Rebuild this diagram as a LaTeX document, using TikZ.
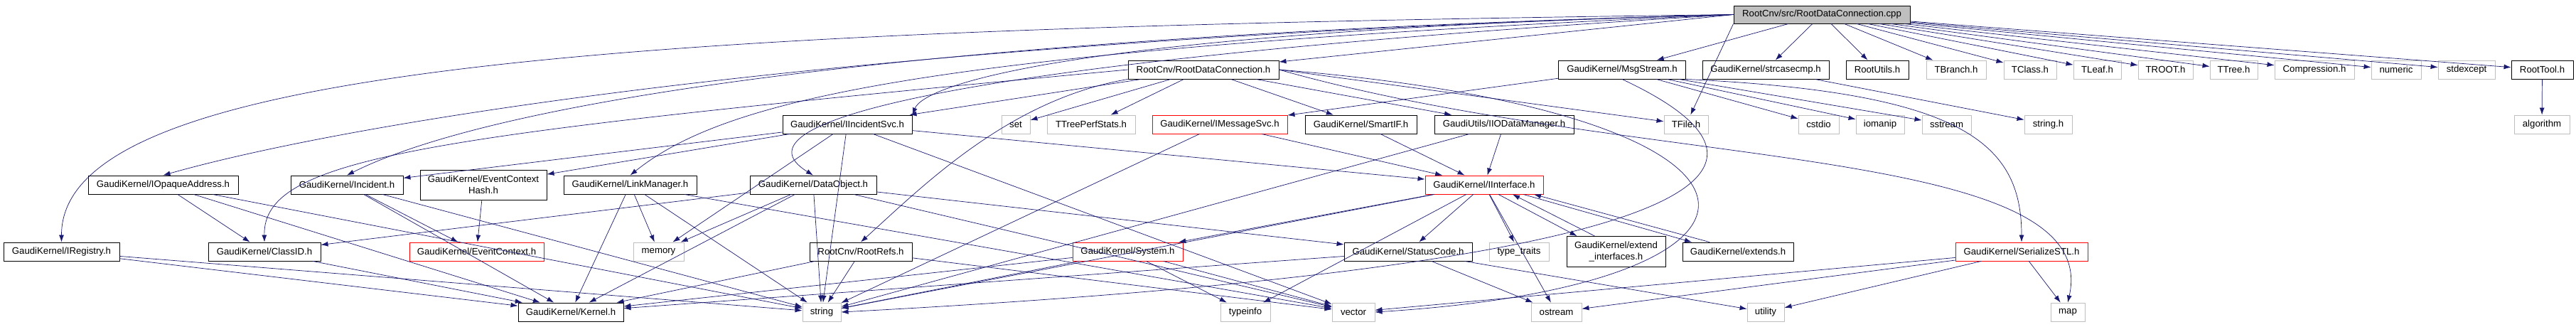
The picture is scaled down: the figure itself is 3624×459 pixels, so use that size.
\documentclass[tikz,border=0pt]{standalone}
\usepackage{fontspec}
\setmainfont{Liberation Sans}
\usepackage{tikz}
\usetikzlibrary{arrows.meta}
\definecolor{edgeblue}{HTML}{191970}
\definecolor{sysgray}{HTML}{BFBFBF}

\begin{document}
\begin{tikzpicture}[x=1pt, y=1pt,
	hdrbox/.style={font=\fontsize{13.2}{16}\selectfont, draw, line width=0.9, minimum height=26, inner sep=2, align=center},
	sysbox/.style={hdrbox, draw=sysgray},
	redbox/.style={hdrbox, draw=red},
	srcbox/.style={hdrbox, fill=sysgray, minimum height=25},
	incl/.style={draw=edgeblue, line width=0.7, -{Latex[length=10pt,width=7pt]}}
]
\useasboundingbox (0,0) rectangle (3624,-459);

% top row
\node[srcbox, minimum width=248] (root) at (2563,-20.5) {RootCnv/src/RootDataConnection.cpp};

\node[hdrbox, minimum width=212] (rdch) at (1693,-98) {RootCnv/RootDataConnection.h};
\node[hdrbox, minimum width=179] (msgstream) at (2282,-98) {GaudiKernel/MsgStream.h};
\node[hdrbox, minimum width=178] (strcasecmp) at (2484,-98) {GaudiKernel/strcasecmp.h};
\node[hdrbox, minimum width=88] (rootutils) at (2641,-98) {RootUtils.h};
\node[sysbox, minimum width=84] (tbranch) at (2752,-98) {TBranch.h};
\node[sysbox, minimum width=74] (tclass) at (2856,-98) {TClass.h};
\node[sysbox, minimum width=67] (tleaf) at (2950.5,-98) {TLeaf.h};
\node[sysbox, minimum width=77] (troot) at (3046.5,-98) {TROOT.h};
\node[sysbox, minimum width=67] (ttree) at (3142.5,-98) {TTree.h};
\node[sysbox, minimum width=112] (compression) at (3256,-98) {Compression.h};
\node[sysbox, minimum width=70] (numeric) at (3371,-98) {numeric};
\node[sysbox, minimum width=80] (stdexcept) at (3470,-98) {stdexcept};
\node[hdrbox, minimum width=87] (roottool) at (3576.5,-98) {RootTool.h};

\node[hdrbox, minimum width=182] (iincidentsvc) at (1192,-175) {GaudiKernel/IIncidentSvc.h};
\node[sysbox, minimum width=40] (stdset) at (1429,-175) {set};
\node[sysbox, minimum width=124] (ttreeperf) at (1535,-175) {TTreePerfStats.h};
\node[redbox, minimum width=190] (imessagesvc) at (1716,-175) {GaudiKernel/IMessageSvc.h};
\node[hdrbox, minimum width=157] (smartif) at (1914.5,-175) {GaudiKernel/SmartIF.h};
\node[hdrbox, minimum width=196] (iiodatamgr) at (2116,-175) {GaudiUtils/IIODataManager.h};
\node[sysbox, minimum width=62] (tfile) at (2372,-175) {TFile.h};
\node[sysbox, minimum width=57] (cstdio) at (2558.5,-175) {cstdio};
\node[sysbox, minimum width=68] (iomanip) at (2645,-175) {iomanip};
\node[sysbox, minimum width=69] (sstream) at (2738.5,-175) {sstream};
\node[sysbox, minimum width=67] (stringh) at (2881.5,-175) {string.h};
\node[sysbox, minimum width=78] (algorithm) at (3576,-175) {algorithm};

\node[hdrbox, minimum width=211] (iopaque) at (229.5,-260) {GaudiKernel/IOpaqueAddress.h};
\node[hdrbox, minimum width=158] (incident) at (488,-260) {GaudiKernel/Incident.h};
\node[hdrbox, minimum width=178, minimum height=42] (evctxhash) at (680,-260) {GaudiKernel/EventContext\\Hash.h};
\node[hdrbox, minimum width=187] (linkmgr) at (886.5,-260) {GaudiKernel/LinkManager.h};
\node[hdrbox, minimum width=178] (dataobject) at (1144,-260) {GaudiKernel/DataObject.h};
\node[redbox, minimum width=166] (iinterface) at (2088,-260) {GaudiKernel/IInterface.h};

\node[hdrbox, minimum width=163] (iregistry) at (86.5,-354) {GaudiKernel/IRegistry.h};
\node[hdrbox, minimum width=158] (classid) at (372,-354) {GaudiKernel/ClassID.h};
\node[redbox, minimum width=189] (evctx) at (670.5,-354) {GaudiKernel/EventContext.h};
\node[sysbox, minimum width=71] (memory) at (926.5,-354) {memory};
\node[hdrbox, minimum width=144] (rootrefs) at (1211,-354) {RootCnv/RootRefs.h};
\node[redbox, minimum width=155] (system) at (1586.5,-354) {GaudiKernel/System.h};
\node[hdrbox, minimum width=180] (statuscode) at (1981,-354) {GaudiKernel/StatusCode.h};
\node[sysbox, minimum width=84] (typetraits) at (2137,-354) {type\_traits};
\node[hdrbox, minimum width=139, minimum height=43] (extendif) at (2273.5,-354) {GaudiKernel/extend\\\_interfaces.h};
\node[hdrbox, minimum width=156] (extends) at (2445,-354) {GaudiKernel/extends.h};
\node[redbox, minimum width=186] (serialstl) at (2844,-354) {GaudiKernel/SerializeSTL.h};

% bottom row
\node[hdrbox, minimum width=148] (kernel) at (803,-439) {GaudiKernel/Kernel.h};
\node[sysbox, minimum width=54] (stdstring) at (1156,-439) {string};
\node[sysbox, minimum width=70] (typeinfo) at (1752,-439) {typeinfo};
\node[sysbox, minimum width=60] (vector) at (1904,-439) {vector};
\node[sysbox, minimum width=71] (ostream) at (2189.5,-439) {ostream};
\node[sysbox, minimum width=52] (utility) at (2484,-439) {utility};
\node[sysbox, minimum width=48] (map) at (2909,-439) {map};

% includes of the source file
\draw[incl] (root.west) -- (rdch);
\draw[incl] (root) -- (msgstream);
\draw[incl] (root) -- (strcasecmp);
\draw[incl] (root) -- (rootutils);
\draw[incl] (root) -- (tbranch);
\draw[incl] (root) -- (tclass);
\draw[incl] (root) -- (tleaf);
\draw[incl] (root) -- (troot);
\draw[incl] (root) -- (ttree);
\draw[incl] (root) -- (compression);
\draw[incl] (root) -- (numeric);
\draw[incl] (root) -- (stdexcept);
\draw[incl] (root) -- (roottool);
\draw[incl] (root.south west) -- (tfile);
\draw[incl] (root.west) .. controls (1500,-45) and (1300,-120) .. (iincidentsvc.north east);
\draw[incl] (root.west) .. controls (1300,-50) and (700,-140) .. (incident.north);
\draw[incl] (root.west) .. controls (1200,-55) and (500,-170) .. (iopaque.north);
\draw[incl] (root.west) .. controls (900,-40) and (86,-90) .. (iregistry.north);
\draw[incl] (root.west) .. controls (1300,-70) and (1020,-140) .. (linkmgr.north);
\draw[incl] (root.west) .. controls (1350,-85) and (1020,-170) .. (dataobject.north);

% RootDataConnection.h
\draw[incl] (rdch) -- (iincidentsvc);
\draw[incl] (rdch) -- (stdset);
\draw[incl] (rdch) -- (ttreeperf);
\draw[incl] (rdch) -- (smartif);
\draw[incl] (rdch) -- (iiodatamgr);
\draw[incl] (rdch.east) -- (tfile);
\draw[incl] (rdch.west) .. controls (600,-190) and (370,-220) .. (classid.north);
\draw[incl] (rdch.south west) .. controls (1420,-140) and (1300,-260) .. (rootrefs.north);
\draw[incl] (rdch.east) .. controls (2300,-240) and (2960,-200) .. (map.north);
\draw[incl] (rdch.east) .. controls (2560,-160) and (2560,-400) .. (vector.east);

% MsgStream.h and friends
\draw[incl] (msgstream) -- (imessagesvc);
\draw[incl] (msgstream) -- (cstdio);
\draw[incl] (msgstream) -- (iomanip);
\draw[incl] (msgstream) -- (sstream);
\draw[incl] (msgstream.south east) .. controls (2760,-130) and (2844,-200) .. (serialstl.north);
\draw[incl] (msgstream.south) .. controls (2600,-260) and (2300,-380) .. (stdstring.east);
\draw[incl] (strcasecmp) -- (stringh);
\draw[incl] (roottool) -- (algorithm);

% second row
\draw[incl] (iincidentsvc) -- (incident);
\draw[incl] (iincidentsvc) -- (evctxhash);
\draw[incl] (iincidentsvc) -- (iinterface);
\draw[incl] (iincidentsvc) -- (memory);
\draw[incl] (iincidentsvc) -- (stdstring);
\draw[incl] (iincidentsvc) -- (vector);
\draw[incl] (imessagesvc) -- (iinterface);
\draw[incl] (imessagesvc) -- (stdstring);
\draw[incl] (smartif) -- (iinterface);
\draw[incl] (iiodatamgr) -- (iinterface);
\draw[incl] (iiodatamgr) -- (stdstring);

% third row
\draw[incl] (iopaque) -- (classid);
\draw[incl] (iopaque) -- (kernel);
\draw[incl] (iopaque) -- (stdstring);
\draw[incl] (incident) -- (evctx);
\draw[incl] (incident) -- (kernel);
\draw[incl] (incident) -- (stdstring);
\draw[incl] (evctxhash) -- (evctx);
\draw[incl] (linkmgr) -- (memory);
\draw[incl] (linkmgr) -- (kernel);
\draw[incl] (linkmgr) -- (stdstring);
\draw[incl] (linkmgr) -- (vector);
\draw[incl] (dataobject) -- (classid);
\draw[incl] (dataobject) -- (memory);
\draw[incl] (dataobject) -- (statuscode);
\draw[incl] (dataobject) -- (kernel);
\draw[incl] (dataobject) -- (stdstring);
\draw[incl] (dataobject) -- (vector);
\draw[incl] (iinterface) -- (system);
\draw[incl] (iinterface) -- (statuscode);
\draw[incl] (iinterface) -- (typetraits);
\draw[incl] (iinterface) -- (ostream);
\draw[incl] (iinterface) -- (typeinfo);
\draw[incl] (iinterface) -- (stdstring);
\draw[incl] ([xshift=20]iinterface.south) -- ([xshift=-55]extendif.north);
\draw[incl] ([xshift=-30]extendif.north) -- ([xshift=40]iinterface.south);
\draw[incl] ([xshift=55]iinterface.south) -- ([xshift=-65]extends.north);
\draw[incl] ([xshift=-40]extends.north) -- ([xshift=70]iinterface.south);

% fourth row
\draw[incl] (iregistry) -- (kernel);
\draw[incl] (iregistry) -- (stdstring);
\draw[incl] (classid) -- (kernel);
\draw[incl] (rootrefs) -- (kernel);
\draw[incl] (rootrefs) -- (stdstring);
\draw[incl] (rootrefs) -- (vector);
\draw[incl] (system) -- (kernel);
\draw[incl] (system) -- (stdstring);
\draw[incl] (system) -- (vector);
\draw[incl] (system) -- (typeinfo);
\draw[incl] (statuscode) -- (kernel);
\draw[incl] (statuscode) -- (ostream);
\draw[incl] (statuscode) -- (utility);
\draw[incl] (serialstl) -- (map);
\draw[incl] (serialstl) -- (vector);
\draw[incl] (serialstl) -- (ostream);
\draw[incl] (serialstl) -- (utility);
\end{tikzpicture}
\end{document}
